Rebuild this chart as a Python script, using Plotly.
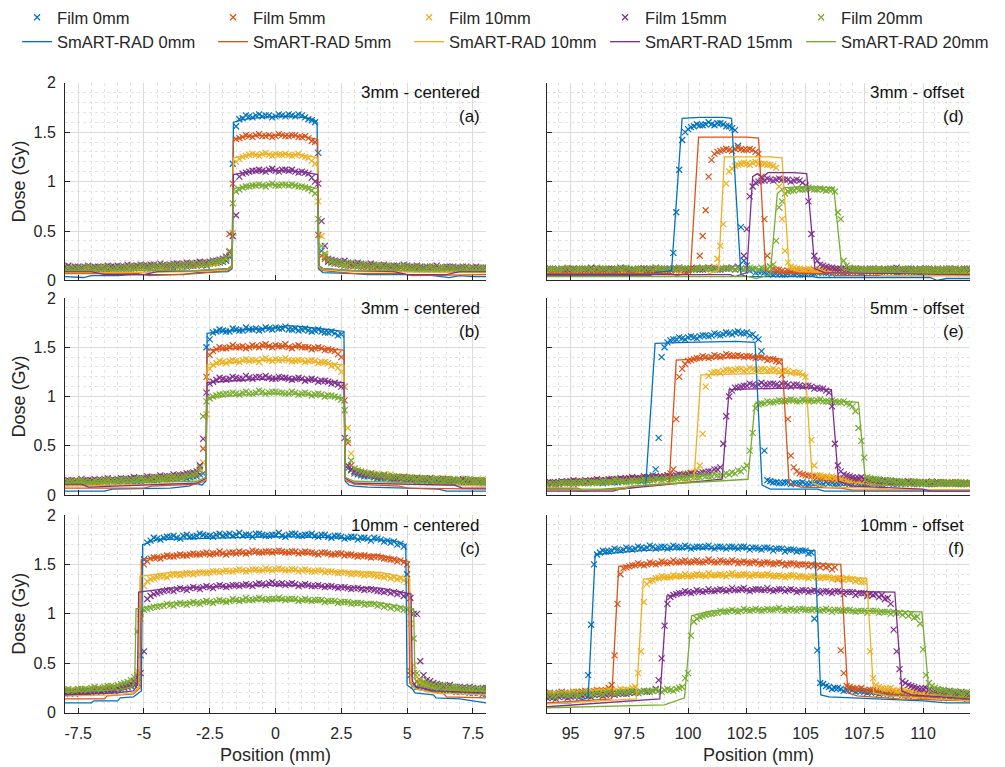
import plotly.graph_objects as go

# ---------------- categories / labels ----------------
depth_labels = ["0mm", "5mm", "10mm", "15mm", "20mm"]
colors = ["#0072BD", "#D95319", "#EDB120", "#7E2F8E", "#77AC30"]

x_ticks_left = [-7.5, -5, -2.5, 0, 2.5, 5, 7.5]
x_tick_text_left = ["-7.5", "-5", "-2.5", "0", "2.5", "5", "7.5"]
x_ticks_right = [95, 97.5, 100, 102.5, 105, 107.5, 110]
x_tick_text_right = ["95", "97.5", "100", "102.5", "105", "107.5", "110"]
y_ticks = [0, 0.5, 1, 1.5, 2]
y_tick_text = ["0", "0.5", "1", "1.5", "2"]

# film read-out positions (mm): 0.25 mm grid plus the in-between read-outs
film_x_left = [round(-8 + 0.25 * k, 3) for k in range(65)]
film_x_left_mid = [round(-7.875 + 0.25 * k, 3) for k in range(64)]
film_x_right = [round(94 + 0.25 * k, 3) for k in range(73)]
film_x_right_mid = [round(94.125 + 0.25 * k, 3) for k in range(72)]

# ---------------- film doses (cGy), grid read-outs ----------------
film_a_0mm = [11,12,11,12,12,11,12,12,12,13, 12,13,13,12,13,13,14,14,14,15, 15,16,17,18,19, 24,
              156,164,166,167,166,167,166,167,168,166,167,163,160, 30,
              19,17,16,15,15,14,14,13,13,13, 12,13,12,12,12,11,12,12,11,12, 11,12,11,12,11]
film_a_5mm = [12,12,13,12,12,13,12,13,13,12, 13,13,14,13,14,14,14,15,15,15, 16,16,17,18,20, 47,
              143,145,146,147,146,147,146,147,146,147,145,144,140, 25,
              20,18,17,16,15,15,14,14,14,13, 13,13,13,12,13,12,12,13,12,12, 12,12,12,11,12]
film_a_10mm = [12,13,12,12,13,12,13,13,12,13, 13,14,13,14,14,14,15,15,15,16, 16,17,17,18,20, 26,
               120,125,127,127,128,127,128,127,127,127,126,124,118, 45,
               21,18,17,16,16,15,15,14,14,14, 13,14,13,13,13,12,13,12,13,12, 12,12,13,12,12]
film_a_15mm = [14,13,14,14,13,14,14,14,15,14, 15,15,15,16,15,16,16,17,17,17, 18,18,19,20,22, 29,
               66,108,110,111,111,112,111,112,111,110,110,108,100, 60,
               22,20,19,18,17,17,16,16,15,15, 15,14,15,14,14,14,14,13,14,14, 13,14,13,13,13]
film_a_20mm = [12,12,13,13,12,13,13,12,13,13, 14,13,14,14,14,15,15,15,16,16, 16,17,18,19,21, 30,
               90,94,95,96,96,97,96,97,96,96,95,93,88, 35,
               21,19,18,17,16,16,15,15,15,14, 14,14,14,13,13,13,13,13,12,13, 12,13,12,12,12]

film_b_0mm = [12,13,12,13,13,12,13,14,13,14, 14,14,15,15,15,16,16,17,18,18, 19, 22,
              158,166,167,166,168,167,168,169,168,169, 170,169,168,169,168,167,167,166,165,164, 163, 27,
              22,20,19,18,17,17,16,16,15,15, 15,14,14,14,13,13,14,13,13,12, 13]
film_b_5mm = [13,13,14,13,14,14,14,15,14,15, 15,16,16,16,17,17,18,18,19,20, 21, 47,
              142,148,149,150,150,151,150,151,152,151, 152,151,150,151,150,150,149,149,148,146, 140, 53,
              24,22,21,20,19,18,18,17,17,16, 16,16,15,15,15,14,15,14,14,14, 14]
film_b_10mm = [14,14,13,14,14,15,14,15,15,15, 16,16,16,17,17,18,18,19,20,21, 22, 33,
               128,134,135,136,136,137,136,137,138,137, 138,137,137,136,137,136,136,135,134,132, 125, 68,
               26,24,22,21,20,20,19,18,18,17, 17,17,16,16,16,15,16,15,15,15, 15]
film_b_15mm = [14,15,14,15,15,15,16,15,16,16, 17,17,17,18,18,19,19,20,21,22, 24, 57,
               113,117,118,118,119,118,119,120,119,119, 118,119,118,118,118,117,117,116,115,114, 110, 30,
               24,22,21,20,19,19,18,18,17,17, 17,16,16,16,16,15,15,15,15,14, 15]
film_b_20mm = [13,14,14,14,13,14,15,14,15,15, 15,16,16,17,17,17,18,18,19,20, 22, 80,
               98,101,102,103,103,104,103,104,105,104, 105,104,103,104,103,103,102,102,101,100, 97, 56,
               27,24,22,21,20,19,19,18,18,17, 17,17,16,16,16,16,15,16,15,15, 15]

film_c_0mm = [19,20,20,21,21,22,22,23,24,25,27, 30,
              155,174,176,177,178,177,179,178,179,180, 179,180,179,181,180,179,180,181,180,179,
              180,179,180,181,179,180,179,180,178,179, 178,177,178,177,176,177,175,174,173,171, 140, 28,
              27,25,24,23,22,22,21,21,20,20,19]
film_c_5mm = [21,21,22,22,23,23,24,24,25,26,28, 38,
              150,156,157,158,158,159,159,160,160,161, 160,161,161,162,161,162,162,163,162,163,
              163,163,162,163,162,162,161,162,161,160, 161,160,159,159,158,158,157,156,155,154, 150, 40,
              30,28,26,25,24,24,23,23,22,22,22]
film_c_10mm = [22,22,23,23,23,24,24,25,26,27,30, 42,
               128,135,137,138,139,140,140,141,141,142, 142,143,143,143,144,144,144,145,144,145,
               145,145,144,145,144,144,143,144,143,142, 142,141,141,140,140,139,138,138,137,136, 132, 48,
               31,29,27,26,25,25,24,24,23,23,23]
film_c_15mm = [20,21,21,22,22,23,23,24,25,27,29, 36,
               62,118,121,123,124,125,125,126,126,127, 127,128,128,128,129,129,129,130,130,131,
               130,131,130,130,129,129,128,128,128,127, 127,126,126,125,125,124,123,123,122,121, 119, 100,
               52,33,30,28,27,26,26,25,25,24,25]
film_c_20mm = [23,23,24,24,25,25,26,27,28,30,33, 82,
               104,106,107,108,109,110,110,111,111,112, 112,113,113,113,114,114,114,115,115,115,
               115,115,115,115,114,114,114,114,113,113, 112,112,111,111,110,110,109,108,107,106, 104, 75,
               33,30,28,27,26,26,25,24,24,24,23]

film_d_0mm = [10,9,10,10,9,10,10,9,10,10, 9,10,10,10,9,10,10,9,10,11, 10, 12,
              69,142,153,156,157,158,158,159,158,156,152,54,15,
              11,9,8,7,7,6,7,7,6,7, 7,8,8,8,9,9,8,9,9,9, 10,9,9,10,9,9,10,9,9,9, 10,9,9,9,8,9,9,9]
film_d_5mm = [11,10,11,11,10,11,11,10,11,11, 10,11,11,10,11,11,10,11,11,10, 11,11,10,11,10,11, 25,
              71,122,130,132,132,133,133,132,132,128,62,14,
              11,10,10,9,10,10,9,10,10,9, 10,10,10,9,10,10,11,10,10,11, 10,11,10,10,11,10,10,11,10,10, 11,10,10,11]
film_d_10mm = [10,11,10,11,11,10,11,10,11,11, 10,11,11,10,11,11,10,11,11,11, 10,11,11,10,11,11,12,11,12, 22,
               57,110,116,118,118,119,118,118,117,114,62,18,
               13,12,11,11,10,11,10,10,11,10, 10,11,10,10,11,10,10,11,10,11, 10,10,11,10,10,11,10,10,11,10, 10]
film_d_15mm = [11,12,11,11,12,11,12,11,11,12, 11,12,11,12,11,11,12,11,12,11, 12,11,12,12,11,12,11,12,12,11, 12,12,11, 12,
               52,95,100,101,102,102,102,102,101,101,96,47,20,
               15,13,12,12,11,12,11,11,12,11, 11,11,12,11,11,12,11,11,12,11, 11,12,11,11,12,11]
film_d_20mm = [11,12,11,12,12,11,12,12,11,12, 12,11,12,12,12,11,12,12,11,12, 12,12,11,12,12,11,12,12,12,11, 12,12,11,12,12,12,11,12, 14,
               40,80,90,91,92,92,93,92,92,92,90,62,15,
               12,12,11,12,11,11,12,11,11,12, 11,11,11,12,11,11,12,11,11,11, 12]

film_e_0mm = [11,12,11,12,12,12,13,12,13,13, 13,14,13,14,14,15,14,15,20, 58,
              150,157,158,159,160,160,161,162,162,163, 163,164,165,164,165,163,158, 45,
              14,13,12,13,12,12,11,12,12,11, 12,11,12,12,11,12,11,12,12,11, 12,11,12,11,12,11,12,11,11,12, 11,12,11,11,12]
film_e_5mm = [11,12,12,12,13,12,13,13,13,14, 14,14,15,15,15,16,16,17,17,18, 19,22, 77, 128,
              136,138,139,140,140,141,141,142,141,141, 141,140,140,139,138,136, 122, 77, 28,
              22,20,19,18,17,16,16,15,15,14, 14,14,13,13,13,13,12,13,12,13, 12,12,13,12,12,12,13,12,12,12]
film_e_10mm = [12,12,13,12,13,13,13,14,14,14, 15,15,15,16,16,16,17,17,18,18, 19,19,20,21,22,23, 30, 110,
               124,125,126,127,127,128,127,128,127,128, 127,127,126,126,125,124,120, 56, 20,
               19,18,17,16,15,15,14,14,13,13, 13,13,12,13,12,12,13,12,12,12, 13,12,12,12,12,12]
film_e_15mm = [12,13,13,13,14,14,14,14,15,15, 15,16,16,16,17,17,17,18,18,18, 19,19,20,20,21,21,22,23,24,26, 52, 100,
               109,110,111,112,112,112,113,112,113,112, 112,111,111,110,109,108,104, 52, 24,
               20,18,17,16,15,15,14,14,13,13, 13,12,13,12,12,12,13,12,12,12, 12,12]
film_e_20mm = [11,11,12,12,12,12,13,12,13,13, 13,13,14,14,14,14,15,15,15,16, 16,16,17,17,17,18,18,19,19,20, 20,21,22,24,30, 63,
               92,93,94,95,95,96,96,95,96,96, 96,95,95,95,94,93,90, 68, 38,
               17,16,15,15,14,14,13,14,13,13, 13,12,13,13,12,13,12,13]

film_f_0mm = [19,19,20,19,20,20,21, 38, 150,
              162,163,164,165,165,166,166,167,167,168, 167,168,167,168,167,168,167,168,168,167,
              168,167,168,167,168,167,167,166,167,166, 166,166,165,165,164,164,162, 63, 29,
              26,25,24,23,23,22,21,21,20,20, 19,19,19,18,18,18,17,17,17,17, 16,16,16,15,15]
film_f_5mm = [19,19,20,20,20,21,21,21,22,22,23, 28, 110,
              146,148,149,150,150,151,151,152,152,152, 153,152,153,152,153,153,152,153,152,153,
              152,152,152,151,152,151,151,151,150,151, 150,150,150,149,149,148,147, 63, 27,
              25,24,23,23,22,21,21,20,20,20, 19,19,18,18,18,17,17,17,17,16, 16]
film_f_10mm = [18,19,19,19,20,20,20,21,21,21, 22,22,22,23,23, 26, 62,
               130,134,136,137,137,138,138,138,139,139, 138,139,139,139,140,139,139,140,139,139,
               139,139,138,138,138,139,138,137,138,137, 137,137,136,136,136,135,134,132, 62, 28,
               25,24,23,22,22,21,21,20,20,19, 19,19,18,18,18,17]
film_f_15mm = [15,15,16,16,16,17,17,17,18,18, 18,19,19,19,20,20,21,21,22, 33, 88,
               117,120,121,122,122,123,123,123,124,124, 124,124,125,124,124,125,124,124,124,125,
               124,124,123,124,123,123,123,122,123,122, 122,122,121,121,120,120,119,116, 84, 44,
               30,27,25,24,23,22,22,21,21,20, 20,19]
film_f_20mm = [17,17,18,18,18,18,19,19,19,19, 20,20,20,21,21,21,21,22,22,22, 23,23,24, 26, 40,
               92,97,99,100,101,102,103,103,103,104, 104,104,104,104,105,104,104,104,105,104,
               104,104,104,104,104,103,104,103,103,103, 103,103,102,102,102,101,101,100,97, 64, 30,
               25,23,22,21,21,20,20]

# ---------------- film doses (cGy), in-between read-outs ----------------
film_a_0mm_mid = [12,11,12,13,12,12,11,13,12,12, 13,13,12,14,13,14,13,15,14,15, 16,15,17,18, 20, 118,
                  163,167,165,168,167,165,168,166,167,168,165,162, 129, 24,
                  18,17,15,16,14,15,13,14,12,13, 13,12,13,11,12,12,11,13,12,11, 12,12,11,12]
film_a_5mm_mid = [13,12,12,13,13,12,14,12,13,14, 12,14,13,15,14,13,15,14,16,15, 17,16,18,19, 22, 98,
                  144,147,145,148,146,145,148,146,147,145,146,141, 46, 22,
                  19,17,16,15,16,14,15,13,14,13, 12,14,12,13,12,13,12,11,13,12, 11,12,12,11]
film_a_10mm_mid = [13,12,13,12,12,14,12,13,14,13, 14,13,15,14,13,15,16,14,16,17, 16,18,17,19, 22, 48,
                   123,126,128,126,129,126,127,128,126,128,125,121, 80, 25,
                   20,18,16,17,15,16,14,15,13,14, 14,13,12,14,12,13,13,12,11,13, 12,13,11,12]
film_a_15mm_mid = [15,14,13,15,14,13,15,14,14,16, 14,16,15,16,17,15,17,16,18,17, 19,18,20,21, 24, 45,
                   105,109,111,112,110,113,110,112,112,109,109,104, 98, 35,
                   21,19,20,17,18,16,17,15,16,14, 15,16,14,15,13,14,15,13,14,13, 14,12,14,13]
film_a_20mm_mid = [13,12,12,14,12,13,14,12,13,14, 13,15,13,15,14,14,16,15,16,17, 17,16,19,20, 23, 78,
                   92,95,96,97,95,98,96,97,97,95,94,91, 62, 27,
                   20,18,17,18,15,16,14,16,14,15, 13,15,13,14,12,14,12,13,13,12, 13,12,12,13]

film_b_0mm_mid = [13,12,14,12,13,14,12,14,15,13, 15,14,16,15,17,16,17,18,17,19, 21, 150,
                  165,168,166,169,167,170,168,167,170,168, 169,171,168,167,169,166,168,165,166,162, 110, 25,
                  21,19,20,17,18,16,17,15,16,14, 15,13,14,15,13,14,12,14,13,12]
film_b_5mm_mid = [14,13,13,15,13,14,15,14,16,14, 16,15,17,16,18,17,19,18,20,21, 25, 120,
                  146,150,149,152,150,149,152,150,153,150, 151,153,149,152,150,148,150,147,147,143, 96, 30,
                  23,21,22,19,20,18,17,18,16,17, 15,16,15,14,16,14,15,13,15,14]
film_b_10mm_mid = [13,15,14,13,15,14,16,14,16,15, 17,16,15,18,17,19,18,20,21,22, 26, 82,
                   132,136,134,137,135,138,137,135,139,136, 137,139,136,137,135,137,134,135,131,129, 110, 42,
                   25,23,21,22,19,21,18,19,17,18, 16,17,15,17,16,14,16,15,14,16]
film_b_15mm_mid = [15,14,16,14,16,15,17,15,17,16, 18,17,19,18,20,19,21,20,22,23, 30, 104,
                   115,119,117,120,118,121,118,120,121,118, 120,119,117,119,116,118,115,116,113,112, 58, 26,
                   23,21,20,19,20,18,17,18,16,17, 16,17,15,16,15,14,16,14,15,14]
film_b_20mm_mid = [14,13,15,13,15,14,16,14,16,15, 16,17,15,18,17,18,19,18,20,21, 28, 95,
                   100,102,103,104,102,105,103,106,103,105, 104,103,105,102,104,101,103,100,101,99, 86, 35,
                   25,23,21,20,21,18,19,17,18,16, 17,16,17,15,16,15,14,16,15,14]

film_c_0mm_mid = [20,19,21,20,22,21,23,22,24,26, 28, 58,
                  172,177,175,178,179,176,180,178,181,179, 178,181,180,179,182,180,178,181,179,180,
                  182,178,181,179,180,181,178,180,177,179, 176,178,175,177,174,176,173,172,170,168, 38, 26,
                  26,24,25,22,23,21,22,20,21,19]
film_c_5mm_mid = [22,21,23,22,24,23,25,24,26,27, 30, 100,
                  153,157,156,159,158,160,159,161,160,162, 161,163,160,162,163,161,164,162,163,162,
                  164,162,163,161,163,162,160,162,160,161, 159,160,158,159,157,158,156,155,153,152, 42, 32,
                  29,27,26,24,25,23,24,22,23,21]
film_c_10mm_mid = [23,22,24,23,24,23,25,26,25,28, 33, 95,
                   133,136,138,137,140,139,141,140,142,141, 143,142,144,143,145,143,145,144,146,144,
                   146,144,145,143,145,143,144,142,143,141, 142,140,141,139,140,138,137,136,135,134, 90, 36,
                   30,28,27,25,26,24,25,23,24,22]
film_c_15mm_mid = [21,20,22,21,23,22,24,23,26,28, 32, 40,
                   115,120,122,124,123,126,124,127,125,128, 126,129,127,129,128,130,128,131,129,132,
                   130,129,131,128,130,128,129,127,128,126, 127,125,126,124,125,123,122,121,120,118, 116, 100,
                   38,32,29,27,28,26,25,26,24,25]
film_c_20mm_mid = [24,22,24,23,26,24,27,26,29,31, 36, 102,
                   105,107,108,110,108,111,109,112,110,113, 111,114,112,115,113,116,114,116,114,115,
                   116,114,115,113,115,113,114,112,113,111, 112,110,111,109,110,108,107,106,105,104, 102, 40,
                   31,29,27,28,25,26,24,25,23,24]

film_d_0mm_mid = [9,10,11,9,10,9,11,10,9,10, 11,9,10,11,9,10,9,11,10,9, 11, 28, 112, 150,
                  155,158,157,160,157,159,156,154, 136, 20,
                  10,8,9,7,6,7,6,8,7,6, 8,7,9,8,7,9,8,10,9,8, 9,10,8,9,10,8,9,10,9,8, 9,10,8,9,9,8,10,9]
film_d_5mm_mid = [10,11,10,12,11,10,11,12,10,11, 11,10,12,11,10,11,12,10,11,11, 10,12,11,10,12,13, 45, 105,
                  128,131,133,131,134,132,133,130, 105, 25,
                  12,11,9,10,11,9,10,11,9,10, 11,10,9,11,10,10,11,9,10,11, 11,10,9,11,10,11,10,9,11,10, 10,11,9,10]
film_d_10mm_mid = [11,10,11,10,12,11,10,11,12,10, 11,11,10,12,11,10,11,12,11,10, 11,12,10,11,12,11,12,13,14, 35, 98,
                   113,117,119,117,120,118,117,116, 95, 30,
                   14,12,11,12,10,11,12,10,11,10, 11,12,10,11,10,11,12,10,11,10, 11,10,12,10,11,10,11,12,10,11, 10]
film_d_15mm_mid = [12,11,12,11,12,12,11,13,12,11, 12,11,13,12,11,12,12,11,13,12, 11,12,13,11,12,12,11,13,12,11, 12,13,14, 25, 85,
                   99,101,103,101,103,102,100,102, 99, 80, 25,
                   16,14,13,12,13,11,12,12,11,12, 12,11,12,13,11,12,11,12,12,11, 12,11,12,12,11,12]
film_d_20mm_mid = [12,11,12,13,11,12,12,11,13,12, 11,12,12,13,11,12,11,12,13,12, 11,12,13,12,11,12,13,12,11,12, 13,12,12,11,13,12,13,12, 16, 74,
                   88,91,93,92,94,92,93,91,92, 69, 20,
                   13,12,12,11,12,12,11,12,11,12, 12,11,12,12,11,12,11,12,12,11, 12]

film_e_0mm_mid = [12,11,13,12,11,13,12,14,13,12, 14,13,15,14,16,15,16,18, 26, 140,
                  155,158,160,158,161,159,162,161,164,162, 165,163,166,164,162,160, 146, 15,
                  13,12,13,11,12,13,11,12,11,13, 12,11,12,11,13,12,11,12,11,12, 13,11,12,12,11,12,11,13,12,11, 12,11,12,11]
film_e_5mm_mid = [12,11,13,12,13,14,12,14,13,15, 14,16,15,16,17,16,18,17,19,18, 20, 26, 120,
                  133,137,139,141,139,142,140,143,141,142, 140,141,139,140,137,138,135, 95, 40,
                  24,21,20,19,17,18,16,17,15,16, 14,15,13,14,14,12,14,13,12,13, 13,12,12,13,12,13,12,12,13,12]
film_e_10mm_mid = [13,12,12,14,12,14,13,15,13,15, 14,16,15,17,16,17,18,17,19,18, 20,19,21,22,23,25, 62,
                   121,125,124,127,126,128,126,129,127,128, 126,128,125,127,124,124,122, 95, 30,
                   20,18,19,16,17,15,16,14,15,13, 14,12,14,13,12,13,11,13,12,12, 13,11,12,13,12,11]
film_e_15mm_mid = [13,12,14,13,15,13,15,14,16,14, 16,15,17,16,18,17,19,17,19,18, 20,19,21,20,22,21,23,24,26,28, 80,
                   106,109,111,113,111,114,112,113,111,113, 110,112,110,111,108,108,106, 90, 30,
                   21,19,17,18,15,16,14,15,13,14, 12,14,12,13,13,11,13,12,12,13, 11,12]
film_e_20mm_mid = [12,11,13,12,13,12,14,13,12,14, 13,15,14,13,15,14,16,15,17,15, 17,16,18,17,19,18,20,19,21,20, 22,23,25,27, 45, 88,
                   93,95,94,96,95,97,95,97,96,95, 97,95,96,94,95,92, 85, 55,
                   18,16,16,14,15,13,14,12,14,13, 12,14,12,13,12,13,12,12]

film_f_0mm_mid = [20,18,21,19,21,20,22, 89,
                  160,164,163,166,164,167,165,168,166,169, 166,168,166,169,167,169,166,168,167,169,
                  166,168,166,168,166,168,165,167,165,167, 164,166,163,165,163,164,161, 95, 30,
                  27,24,25,22,24,21,22,20,21,19, 20,18,19,18,17,18,16,17,16,17, 15,16,15,16,14]
film_f_5mm_mid = [20,18,21,19,21,20,22,21,23,22,25, 58,
                  140,147,149,151,149,152,150,153,151,154, 152,154,152,154,152,155,152,154,152,154,
                  151,153,151,153,150,152,150,152,149,151, 149,150,148,149,147,147,145, 135, 40,
                  26,24,25,22,23,21,22,20,21,19, 20,18,19,17,18,17,18,16,17,16, 16]
film_f_10mm_mid = [19,18,20,19,21,19,21,20,22,21, 23,22,24,23,25, 40, 112,
                   133,136,138,137,139,138,140,138,140,139, 141,139,140,138,141,139,140,138,140,139,
                   140,138,139,137,139,137,138,136,138,136, 137,135,136,134,135,133,132, 120, 35,
                   26,24,25,22,23,21,22,20,21,19, 20,18,19,17,18,17]
film_f_15mm_mid = [16,14,17,15,17,16,18,16,19,17, 19,18,20,19,21,20,22,21,24, 55, 110,
                   119,121,123,121,124,122,125,123,125,123, 126,124,126,123,125,124,126,123,125,123,
                   125,122,124,122,124,121,123,121,123,120, 122,119,121,118,119,117,115, 110, 62, 32,
                   28,26,24,25,22,23,21,22,20,21,19]
film_f_20mm_mid = [18,16,19,17,19,17,20,18,20,18, 21,19,21,20,22,20,22,21,23,21, 24,22,25, 35, 78,
                   95,98,100,101,103,102,104,102,105,103, 105,103,105,104,106,103,105,103,105,104,
                   105,103,105,102,104,103,104,102,103,101, 103,101,102,100,101,99,98,96, 90, 38,
                   27,24,23,21,22,20,21]

# ---------------- SmART-RAD simulated profiles (mm, Gy) ----------------
sim_a_0mm_x = [-8,-7.3,-7.0,-6.0,-5.5,-3.5,-3.0,-1.8,-1.65,-1.6,-1.2,-0.5,0.3,1.0,1.45,1.58,1.63,1.8,3.0,3.5,5.5,6.0,6.6,7.0,7.5,8]
sim_a_0mm_y = [0.04,0.03,0.05,0.05,0.06,0.06,0.08,0.09,0.12,1.60,1.63,1.65,1.66,1.65,1.63,1.60,0.12,0.08,0.07,0.06,0.06,0.05,0.03,0.05,0.04,0.04]
sim_a_5mm_x = [-8,-5.2,-4.8,-3.0,-1.8,-1.65,-1.6,-1.0,0,1.0,1.55,1.6,1.65,1.8,3.0,4.8,5.2,8]
sim_a_5mm_y = [0.07,0.07,0.05,0.07,0.10,0.13,1.43,1.46,1.47,1.46,1.43,1.43,0.13,0.10,0.07,0.07,0.05,0.06]
sim_a_10mm_x = [-8,-6,-3,-1.8,-1.65,-1.6,-1,0,1,1.6,1.65,1.8,3,6,8]
sim_a_10mm_y = [0.08,0.08,0.09,0.11,0.14,1.24,1.27,1.28,1.27,1.24,0.14,0.11,0.09,0.08,0.08]
sim_a_15mm_x = [-8,-7,-6.5,-5,-4.5,-3,-1.8,-1.65,-1.6,-1,0,1,1.6,1.65,1.8,3,4.5,5,6.5,7,8]
sim_a_15mm_y = [0.09,0.09,0.06,0.06,0.09,0.10,0.12,0.15,1.07,1.10,1.11,1.10,1.07,0.15,0.12,0.10,0.09,0.06,0.06,0.09,0.09]
sim_a_20mm_x = [-8,-3,-1.8,-1.65,-1.6,-1,0,1,1.6,1.65,1.8,3,8]
sim_a_20mm_y = [0.10,0.10,0.12,0.15,0.93,0.96,0.97,0.96,0.93,0.15,0.12,0.10,0.10]

sim_b_0mm_x = [-8,-6.5,-6.2,-4,-3.3,-3.0,-2.8,-2.65,-2.6,-2,-1,0,0.5,1,2,2.6,2.65,2.8,3.0,3.5,5,6.2,6.5,8]
sim_b_0mm_y = [0.04,0.04,0.06,0.07,0.09,0.12,0.10,0.14,1.64,1.66,1.68,1.70,1.72,1.71,1.68,1.66,0.14,0.10,0.09,0.08,0.07,0.06,0.04,0.04]
sim_b_5mm_x = [-8,-5,-4.7,-3,-2.65,-2.6,-1,0,1,2.6,2.65,3,4.7,5,8]
sim_b_5mm_y = [0.07,0.07,0.09,0.11,0.15,1.47,1.50,1.51,1.50,1.47,0.15,0.11,0.09,0.07,0.06]
sim_b_10mm_x = [-8,-3,-2.65,-2.6,-1,0,1,2.6,2.65,3,8]
sim_b_10mm_y = [0.09,0.12,0.16,1.32,1.36,1.37,1.36,1.32,0.16,0.12,0.09]
sim_b_15mm_x = [-8,-7.4,-7.1,-3,-2.65,-2.6,-1,0,1,2.6,2.65,3,6.8,7.1,8]
sim_b_15mm_y = [0.11,0.11,0.08,0.12,0.17,1.14,1.17,1.18,1.17,1.14,0.17,0.12,0.10,0.07,0.07]
sim_b_20mm_x = [-8,-3,-2.65,-2.6,-1,0,1,2.6,2.65,3,8]
sim_b_20mm_y = [0.12,0.14,0.18,0.99,1.02,1.03,1.02,0.99,0.18,0.14,0.11]

sim_c_0mm_x = [-8,-7.0,-6.9,-6.0,-5.9,-5.4,-5.1,-5.05,-4.5,-2,0,2,4.5,4.95,5.0,5.2,5.3,6.0,6.1,7.0,7.6,8]
sim_c_0mm_y = [0.10,0.10,0.12,0.12,0.15,0.16,0.22,1.70,1.75,1.77,1.78,1.77,1.74,1.70,0.28,0.24,0.20,0.18,0.15,0.14,0.12,0.10]
sim_c_5mm_x = [-8,-6.5,-6.4,-5.4,-5.15,-5.1,-4,0,4,5.05,5.1,5.3,6.4,6.5,8]
sim_c_5mm_y = [0.14,0.14,0.17,0.19,0.25,1.55,1.59,1.62,1.59,1.53,0.30,0.24,0.19,0.16,0.15]
sim_c_10mm_x = [-8,-6,-5.4,-5.2,-5.15,-4,0,4,5.1,5.15,5.3,6,8]
sim_c_10mm_y = [0.17,0.18,0.20,0.26,1.38,1.42,1.44,1.42,1.36,0.30,0.24,0.20,0.18]
sim_c_15mm_x = [-8,-6,-5.4,-5.25,-5.2,-4,0,4,5.15,5.2,5.35,6,8]
sim_c_15mm_y = [0.18,0.20,0.22,0.28,1.22,1.26,1.29,1.26,1.20,0.32,0.26,0.22,0.20]
sim_c_20mm_x = [-8,-6,-5.45,-5.35,-5.3,-4,0,4,5.25,5.3,5.45,6,8]
sim_c_20mm_y = [0.21,0.23,0.26,0.32,1.05,1.11,1.14,1.11,1.05,0.34,0.27,0.24,0.21]

sim_d_0mm_x = [94,98.4,98.6,99.3,99.75,100.5,101.5,101.85,102.25,102.5,105.3,105.5,110.3,110.6,111,112]
sim_d_0mm_y = [0.05,0.05,0.08,0.10,1.64,1.65,1.65,1.64,0.06,0.04,0.04,0.03,0.03,0.0,0.02,0.02]
sim_d_5mm_x = [94,99.3,99.5,100.1,100.45,101.5,102.5,103.0,103.3,103.6,106,106.3,112]
sim_d_5mm_y = [0.07,0.07,0.05,0.08,1.45,1.45,1.45,1.44,0.10,0.08,0.07,0.05,0.05]
sim_d_10mm_x = [94,100.8,101.0,101.3,101.55,102.5,103.5,104.0,104.3,104.7,108,108.3,112]
sim_d_10mm_y = [0.06,0.06,0.08,0.10,1.25,1.25,1.25,1.24,0.12,0.09,0.07,0.05,0.05]
sim_d_15mm_x = [94,101.8,102.0,102.5,102.75,102.95,103.15,103.4,104.5,105.05,105.4,105.8,112]
sim_d_15mm_y = [0.06,0.06,0.04,0.08,1.05,1.08,1.04,1.09,1.09,1.08,0.12,0.08,0.06]
sim_d_20mm_x = [94,102.6,102.9,103.5,103.8,104.1,105,106.2,106.55,107,112]
sim_d_20mm_y = [0.04,0.04,0.02,0.06,0.88,0.94,0.95,0.94,0.12,0.09,0.07]

sim_e_0mm_x = [94,95.0,95.3,97.5,98.2,98.6,100,102,102.85,103.15,103.5,105.5,105.8,112]
sim_e_0mm_y = [0.06,0.06,0.04,0.07,0.10,1.54,1.55,1.56,1.55,0.10,0.06,0.06,0.04,0.04]
sim_e_5mm_x = [94,95.3,95.6,99.2,99.5,101,103,104.0,104.3,104.8,106.5,107,112]
sim_e_5mm_y = [0.07,0.07,0.04,0.12,1.37,1.39,1.40,1.38,0.12,0.08,0.07,0.05,0.05]
sim_e_10mm_x = [94,96.8,97.1,100.25,100.55,102,104,105.0,105.3,105.8,108,108.5,112]
sim_e_10mm_y = [0.05,0.05,0.07,0.14,1.22,1.23,1.24,1.22,0.12,0.08,0.07,0.06,0.05]
sim_e_15mm_x = [94,96.8,97.1,101.45,101.75,103,105,106.1,106.4,107,110,110.3,112]
sim_e_15mm_y = [0.04,0.04,0.06,0.16,1.07,1.08,1.09,1.07,0.14,0.09,0.06,0.04,0.04]
sim_e_20mm_x = [94,97.3,97.6,102.55,102.85,104,106,107.25,107.55,108,111,112]
sim_e_20mm_y = [0.06,0.06,0.09,0.16,0.93,0.95,0.96,0.94,0.14,0.10,0.09,0.09]

sim_f_0mm_x = [94,95.0,95.3,95.75,96.05,98,100,103,105.4,105.65,106,108,110,111,112]
sim_f_0mm_y = [0.10,0.10,0.12,0.15,1.60,1.64,1.66,1.66,1.64,0.18,0.16,0.14,0.12,0.10,0.10]
sim_f_5mm_x = [94,96.75,97.05,99,102,106.5,106.8,107.2,109,112]
sim_f_5mm_y = [0.10,0.14,1.48,1.51,1.53,1.50,0.20,0.17,0.14,0.12]
sim_f_10mm_x = [94,97.8,98.1,100,103,107.6,107.9,108.5,112]
sim_f_10mm_y = [0.09,0.14,1.35,1.38,1.39,1.36,0.20,0.17,0.12]
sim_f_15mm_x = [94,98.8,99.1,100,103,108.8,109.1,109.5,112]
sim_f_15mm_y = [0.06,0.14,1.18,1.22,1.24,1.22,0.22,0.18,0.14]
sim_f_20mm_x = [94,99.0,99.85,100.15,101,104,109.95,110.25,110.6,112]
sim_f_20mm_y = [0.05,0.08,0.15,0.98,1.03,1.05,1.02,0.22,0.18,0.15]

panel_labels = ["3mm - centered", "3mm - centered", "10mm - centered",
                "3mm - offset", "5mm - offset", "10mm - offset"]
panel_tags = ["(a)", "(b)", "(c)", "(d)", "(e)", "(f)"]

film_sets = [
    [film_a_0mm, film_a_5mm, film_a_10mm, film_a_15mm, film_a_20mm],
    [film_b_0mm, film_b_5mm, film_b_10mm, film_b_15mm, film_b_20mm],
    [film_c_0mm, film_c_5mm, film_c_10mm, film_c_15mm, film_c_20mm],
    [film_d_0mm, film_d_5mm, film_d_10mm, film_d_15mm, film_d_20mm],
    [film_e_0mm, film_e_5mm, film_e_10mm, film_e_15mm, film_e_20mm],
    [film_f_0mm, film_f_5mm, film_f_10mm, film_f_15mm, film_f_20mm],
]
film_mid_sets = [
    [film_a_0mm_mid, film_a_5mm_mid, film_a_10mm_mid, film_a_15mm_mid, film_a_20mm_mid],
    [film_b_0mm_mid, film_b_5mm_mid, film_b_10mm_mid, film_b_15mm_mid, film_b_20mm_mid],
    [film_c_0mm_mid, film_c_5mm_mid, film_c_10mm_mid, film_c_15mm_mid, film_c_20mm_mid],
    [film_d_0mm_mid, film_d_5mm_mid, film_d_10mm_mid, film_d_15mm_mid, film_d_20mm_mid],
    [film_e_0mm_mid, film_e_5mm_mid, film_e_10mm_mid, film_e_15mm_mid, film_e_20mm_mid],
    [film_f_0mm_mid, film_f_5mm_mid, film_f_10mm_mid, film_f_15mm_mid, film_f_20mm_mid],
]
sim_sets = [
    [(sim_a_0mm_x, sim_a_0mm_y), (sim_a_5mm_x, sim_a_5mm_y), (sim_a_10mm_x, sim_a_10mm_y), (sim_a_15mm_x, sim_a_15mm_y), (sim_a_20mm_x, sim_a_20mm_y)],
    [(sim_b_0mm_x, sim_b_0mm_y), (sim_b_5mm_x, sim_b_5mm_y), (sim_b_10mm_x, sim_b_10mm_y), (sim_b_15mm_x, sim_b_15mm_y), (sim_b_20mm_x, sim_b_20mm_y)],
    [(sim_c_0mm_x, sim_c_0mm_y), (sim_c_5mm_x, sim_c_5mm_y), (sim_c_10mm_x, sim_c_10mm_y), (sim_c_15mm_x, sim_c_15mm_y), (sim_c_20mm_x, sim_c_20mm_y)],
    [(sim_d_0mm_x, sim_d_0mm_y), (sim_d_5mm_x, sim_d_5mm_y), (sim_d_10mm_x, sim_d_10mm_y), (sim_d_15mm_x, sim_d_15mm_y), (sim_d_20mm_x, sim_d_20mm_y)],
    [(sim_e_0mm_x, sim_e_0mm_y), (sim_e_5mm_x, sim_e_5mm_y), (sim_e_10mm_x, sim_e_10mm_y), (sim_e_15mm_x, sim_e_15mm_y), (sim_e_20mm_x, sim_e_20mm_y)],
    [(sim_f_0mm_x, sim_f_0mm_y), (sim_f_5mm_x, sim_f_5mm_y), (sim_f_10mm_x, sim_f_10mm_y), (sim_f_15mm_x, sim_f_15mm_y), (sim_f_20mm_x, sim_f_20mm_y)],
]

# ---------------- layout geometry ----------------
col_domains = [[0.0647, 0.4836], [0.5443, 0.9652]]
row_domains = [[0.6343, 0.8922], [0.3546, 0.6115], [0.0708, 0.3286]]

FONT = "Liberation Sans, Arial, Helvetica, sans-serif"
AXC = "#262626"

fig = go.Figure()

problems = []
for p in range(6):
    col = 0 if p < 3 else 1
    ax = "" if p == 0 else str(p + 1)
    fx = film_x_left if col == 0 else film_x_right
    fxm = film_x_left_mid if col == 0 else film_x_right_mid
    for k in range(5):
        vals = film_sets[p][k]
        mids = film_mid_sets[p][k]
        if len(vals) != len(fx):
            problems.append((panel_tags[p], depth_labels[k], "grid", len(vals)))
        if len(mids) != len(fxm):
            problems.append((panel_tags[p], depth_labels[k], "mid", len(mids)))
        pts = sorted(zip(list(fx) + list(fxm), list(vals) + list(mids)))
        fig.add_trace(go.Scatter(
            x=[q[0] for q in pts], y=[q[1] / 100 for q in pts], mode="markers",
            marker=dict(symbol="x-thin", size=6, color=colors[k],
                        line=dict(width=1.2, color=colors[k])),
            name="Film " + depth_labels[k], showlegend=(p == 0),
            xaxis="x" + ax, yaxis="y" + ax, hoverinfo="skip"))
    for k in range(5):
        sx, sy = sim_sets[p][k]
        if len(sx) != len(sy):
            problems.append(("sim", panel_tags[p], depth_labels[k], len(sx), len(sy)))
        fig.add_trace(go.Scatter(
            x=sx, y=sy, mode="lines", line=dict(color=colors[k], width=1.3),
            name="SmART-RAD " + depth_labels[k], showlegend=(p == 0),
            xaxis="x" + ax, yaxis="y" + ax, hoverinfo="skip"))
if problems:
    raise SystemExit("length mismatch: " + repr(problems))

layout = dict(
    width=1005, height=767,
    margin=dict(l=0, r=0, t=0, b=0, autoexpand=False),
    paper_bgcolor="white", plot_bgcolor="white",
    font=dict(family=FONT, size=16, color=AXC),
    legend=dict(orientation="h", x=0.017, y=1.0, xanchor="left", yanchor="top",
                entrywidth=151, entrywidthmode="pixels",
                font=dict(size=16.5, color=AXC), bgcolor="rgba(0,0,0,0)",
                tracegroupgap=0),
    annotations=[],
)

for p in range(6):
    col = 0 if p < 3 else 1
    row = p % 3
    n = "" if p == 0 else str(p + 1)
    xa = dict(
        domain=col_domains[col], anchor="y" + n, automargin=False,
        range=[-8, 8] if col == 0 else [94, 112],
        tickvals=x_ticks_left if col == 0 else x_ticks_right,
        ticktext=x_tick_text_left if col == 0 else x_tick_text_right,
        showticklabels=(row == 2),
        ticks="inside", ticklen=5, tickcolor=AXC, tickwidth=1,
        showline=True, linecolor=AXC, linewidth=1,
        showgrid=True, gridcolor="#dcdcdc", gridwidth=1, zeroline=False,
        minor=dict(dtick=0.5, tick0=0, showgrid=True, gridcolor="#e4e4e4",
                   griddash="dot", gridwidth=1, ticks=""),
        tickfont=dict(size=16, color=AXC),
        ticklabelstandoff=6,
    )
    if row == 2:
        xa["title"] = dict(text="Position (mm)", font=dict(size=18, color=AXC), standoff=7)
    ya = dict(
        domain=row_domains[row], anchor="x" + n, automargin=False,
        range=[0, 2], tickvals=y_ticks, ticktext=y_tick_text,
        showticklabels=(col == 0),
        ticks="inside", ticklen=5, tickcolor=AXC, tickwidth=1,
        showline=True, linecolor=AXC, linewidth=1,
        showgrid=True, gridcolor="#dcdcdc", gridwidth=1, zeroline=False,
        minor=dict(dtick=0.1, tick0=0, showgrid=True, gridcolor="#e4e4e4",
                   griddash="dot", gridwidth=1, ticks=""),
        tickfont=dict(size=16, color=AXC),
        ticklabelstandoff=5,
    )
    if col == 0:
        ya["title"] = dict(text="Dose (Gy)", font=dict(size=18, color=AXC), standoff=3)
    layout["xaxis" + n] = xa
    layout["yaxis" + n] = ya
    xr = "x" + n + " domain" if n else "x domain"
    yr = "y" + n + " domain" if n else "y domain"
    layout["annotations"].append(dict(
        text=panel_labels[p], xref=xr, yref=yr, x=0.99, y=0.948,
        xanchor="right", yanchor="middle", showarrow=False,
        font=dict(size=17, color="#111111")))
    layout["annotations"].append(dict(
        text=panel_tags[p], xref=xr, yref=yr, x=0.99, y=0.83,
        xanchor="right", yanchor="middle", showarrow=False,
        font=dict(size=17, color="#111111")))

fig.update_layout(**layout)
fig.write_html("out.html")
